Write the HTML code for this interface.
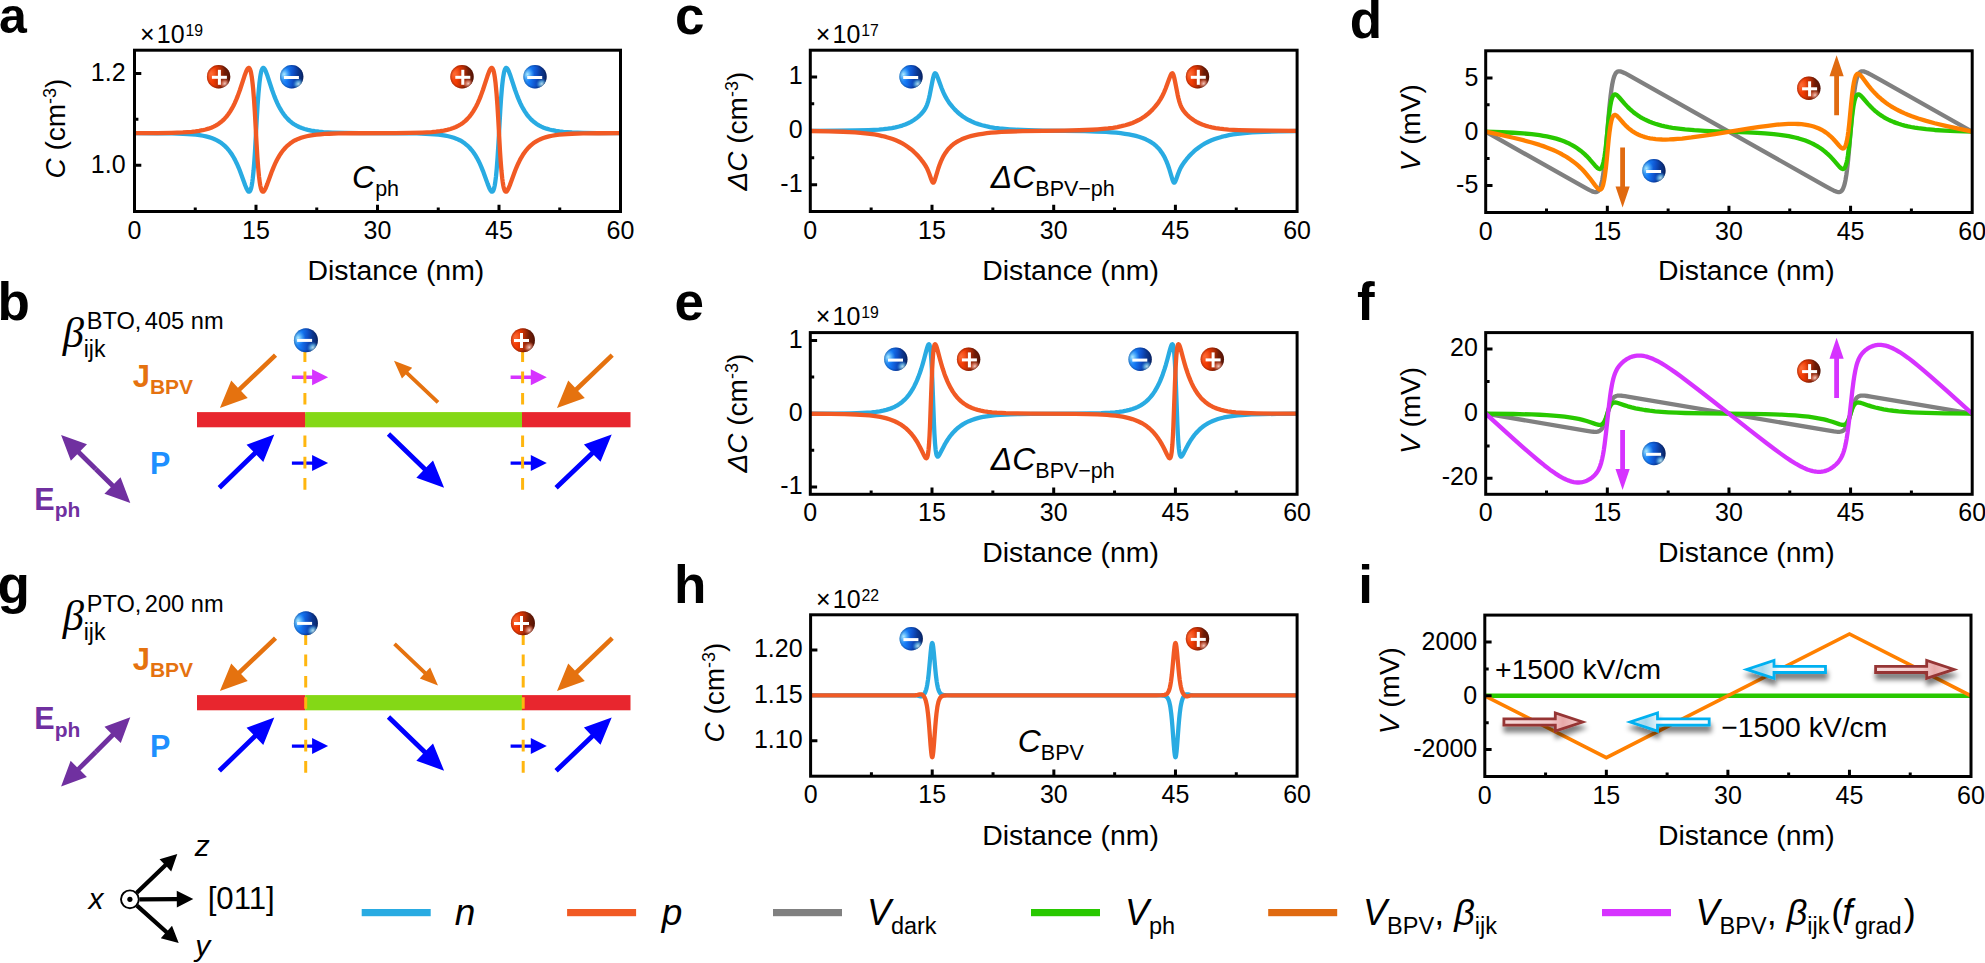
<!DOCTYPE html>
<html><head><meta charset="utf-8"><title>Figure</title>
<style>html,body{margin:0;padding:0;background:#fff;}svg{display:block}text{font-family:'Liberation Sans', Arial, Helvetica, sans-serif;fill:#000}</style>
</head><body>
<svg width="1985" height="963" viewBox="0 0 1985 963">
<defs>

<linearGradient id="rb" x1="0" y1="0.45" x2="1" y2="0.55">
 <stop offset="0" stop-color="#FF4A12"/><stop offset="0.3" stop-color="#F03A02"/>
 <stop offset="0.55" stop-color="#B02C06"/><stop offset="0.75" stop-color="#6E1C06"/><stop offset="1" stop-color="#5A1606"/>
</linearGradient>
<radialGradient id="rh1" cx="0.2" cy="0.38" r="0.3"><stop offset="0" stop-color="#FF7A45" stop-opacity="0.75"/><stop offset="1" stop-color="#FF7A45" stop-opacity="0"/></radialGradient>
<radialGradient id="rh2" cx="0.77" cy="0.8" r="0.24"><stop offset="0" stop-color="#FFD8CC" stop-opacity="0.95"/><stop offset="0.5" stop-color="#FF9C84" stop-opacity="0.6"/><stop offset="1" stop-color="#F0603C" stop-opacity="0"/></radialGradient>
<radialGradient id="rsh" cx="0.5" cy="0.5" r="0.5"><stop offset="0.8" stop-color="#400800" stop-opacity="0"/><stop offset="1" stop-color="#400800" stop-opacity="0.35"/></radialGradient>
<linearGradient id="bb" x1="0" y1="0.45" x2="1" y2="0.55">
 <stop offset="0" stop-color="#3BA4FF"/><stop offset="0.3" stop-color="#1478F5"/>
 <stop offset="0.55" stop-color="#0F50C8"/><stop offset="0.75" stop-color="#0A3690"/><stop offset="1" stop-color="#0A2668"/>
</linearGradient>
<radialGradient id="bh1" cx="0.18" cy="0.4" r="0.3"><stop offset="0" stop-color="#B4EEFF" stop-opacity="0.95"/><stop offset="1" stop-color="#58C0FF" stop-opacity="0"/></radialGradient>
<radialGradient id="bh2" cx="0.8" cy="0.82" r="0.26"><stop offset="0" stop-color="#D2F6FF" stop-opacity="0.95"/><stop offset="0.5" stop-color="#7AD4FF" stop-opacity="0.6"/><stop offset="1" stop-color="#2A8CF0" stop-opacity="0"/></radialGradient>
<radialGradient id="bsh" cx="0.5" cy="0.5" r="0.5"><stop offset="0.8" stop-color="#001040" stop-opacity="0"/><stop offset="1" stop-color="#001040" stop-opacity="0.3"/></radialGradient>

<clipPath id="clipa"><rect x="134.5" y="50.2" width="486.0" height="161.3"/></clipPath>
<clipPath id="clipc"><rect x="810.3" y="50.2" width="486.79999999999995" height="161.3"/></clipPath>
<clipPath id="clipd"><rect x="1485.7" y="50.8" width="486.5" height="161.7"/></clipPath>
<clipPath id="clipe"><rect x="810.3" y="332.6" width="486.79999999999995" height="161.7"/></clipPath>
<clipPath id="clipf"><rect x="1485.7" y="332.6" width="486.5" height="161.7"/></clipPath>
<clipPath id="cliph"><rect x="810.6" y="614.8" width="486.4999999999999" height="161.4000000000001"/></clipPath>
<clipPath id="clipi"><rect x="1484.8" y="615.1" width="486.20000000000005" height="161.39999999999998"/></clipPath>

<filter id="shd" x="-20%" y="-60%" width="140%" height="260%"><feGaussianBlur in="SourceAlpha" stdDeviation="2.8"/><feOffset dx="0.5" dy="5.5"/><feComponentTransfer><feFuncA type="linear" slope="0.5"/></feComponentTransfer><feMerge><feMergeNode/><feMergeNode in="SourceGraphic"/></feMerge></filter>
<linearGradient id="gbr" x1="0" y1="0" x2="1" y2="0"><stop offset="0" stop-color="#F6DADA"/><stop offset="0.6" stop-color="#F2CACA"/><stop offset="0.75" stop-color="#E8A8A8"/><stop offset="1" stop-color="#F4D0D0"/></linearGradient>
<linearGradient id="gbl" x1="0" y1="0" x2="1" y2="0"><stop offset="0" stop-color="#C8E8F4"/><stop offset="0.2" stop-color="#A8D8EC"/><stop offset="0.42" stop-color="#FFFFFF"/><stop offset="1" stop-color="#F4FBFF"/></linearGradient>

<filter id="soft" x="-2%" y="-20%" width="104%" height="140%"><feGaussianBlur stdDeviation="0.6"/></filter>
</defs>
<rect width="1985" height="963" fill="#fff"/>
<path d="M256.00,211.50 v-6.8 M377.50,211.50 v-6.8 M499.00,211.50 v-6.8 M195.25,211.50 v-3.9 M316.75,211.50 v-3.9 M438.25,211.50 v-3.9 M559.75,211.50 v-3.9 M134.50,165.30 h6.8 M134.50,73.40 h6.8 M134.50,119.35 h3.9 " stroke="#000" stroke-width="3" fill="none"/>
<path d="M134.50,133.15 L157.18,133.23 L171.96,133.41 L183.10,133.75 L187.76,134.00 L191.81,134.30 L195.86,134.70 L199.50,135.17 L202.94,135.75 L205.98,136.40 L208.82,137.14 L211.65,138.06 L214.08,139.01 L216.51,140.14 L218.74,141.37 L220.97,142.81 L222.99,144.35 L225.02,146.12 L226.84,147.96 L228.66,150.05 L230.49,152.44 L232.11,154.83 L233.72,157.52 L235.14,160.13 L236.76,163.43 L238.18,166.61 L239.40,169.54 L240.81,173.21 L245.27,185.48 L246.69,188.85 L247.50,190.35 L247.90,190.93 L248.31,191.37 L248.71,191.64 L248.91,191.70 L249.32,191.67 L249.52,191.57 L249.93,191.17 L250.13,190.87 L250.74,189.49 L251.34,187.31 L251.75,185.36 L252.36,181.58 L252.76,178.45 L253.57,170.58 L254.38,160.44 L254.99,151.28 L256.81,118.09 L257.62,104.94 L258.43,93.88 L259.44,83.08 L260.25,76.77 L260.66,74.34 L261.26,71.51 L261.67,70.13 L262.28,68.74 L262.68,68.20 L262.88,68.05 L263.29,67.92 L263.49,67.95 L263.90,68.17 L264.50,68.85 L265.11,69.88 L265.92,71.65 L267.54,76.10 L272.00,89.72 L274.23,95.88 L275.64,99.41 L277.26,103.08 L278.68,105.99 L280.30,108.98 L281.92,111.65 L283.74,114.30 L285.56,116.63 L287.59,118.89 L289.62,120.84 L291.84,122.67 L294.07,124.23 L296.50,125.67 L299.13,126.97 L301.76,128.04 L304.60,128.99 L307.84,129.86 L311.28,130.58 L314.93,131.18 L318.98,131.68 L323.43,132.08 L327.89,132.37 L332.75,132.60 L344.90,132.91 L359.68,133.06 L405.44,133.27 L416.78,133.45 L425.70,133.74 L430.35,133.98 L434.61,134.28 L438.45,134.65 L442.10,135.11 L445.34,135.64 L448.38,136.25 L451.21,136.97 L453.84,137.77 L456.88,138.92 L459.72,140.24 L462.35,141.74 L464.98,143.55 L467.41,145.56 L469.64,147.74 L471.66,150.05 L473.69,152.72 L475.31,155.15 L476.73,157.52 L478.35,160.52 L479.76,163.43 L481.38,167.08 L483.00,171.09 L484.62,175.40 L487.66,183.86 L489.08,187.50 L489.89,189.27 L490.70,190.66 L491.31,191.37 L491.71,191.64 L491.91,191.70 L492.32,191.67 L492.52,191.57 L492.93,191.17 L493.13,190.87 L493.74,189.49 L494.14,188.14 L494.75,185.36 L495.15,182.96 L495.96,176.68 L496.77,168.26 L497.58,157.53 L498.39,144.45 L500.22,111.26 L501.02,99.14 L501.84,89.16 L502.24,84.97 L502.85,79.67 L503.25,76.77 L503.86,73.29 L504.27,71.51 L504.87,69.58 L505.48,68.43 L505.68,68.20 L506.09,67.95 L506.29,67.92 L506.69,68.04 L507.30,68.58 L508.11,69.88 L508.92,71.65 L510.54,76.10 L515.00,89.72 L517.22,95.88 L518.64,99.41 L520.26,103.08 L521.68,105.99 L523.30,108.98 L524.92,111.65 L526.74,114.30 L528.57,116.63 L530.39,118.68 L532.41,120.65 L534.44,122.36 L536.67,123.97 L538.89,125.34 L541.32,126.60 L543.75,127.66 L546.59,128.68 L549.42,129.51 L552.46,130.22 L555.90,130.87 L559.55,131.40 L563.39,131.82 L567.44,132.15 L572.10,132.44 L583.24,132.82 L597.82,133.03 L620.50,133.11" fill="none" stroke="#29ABE2" stroke-width="4.3" stroke-linejoin="round" stroke-linecap="butt" clip-path="url(#clipa)"/>
<path d="M134.50,133.11 L157.18,133.03 L171.76,132.82 L182.90,132.44 L187.56,132.15 L191.61,131.82 L195.45,131.40 L199.10,130.87 L202.54,130.22 L205.58,129.51 L208.41,128.68 L211.25,127.66 L213.68,126.60 L216.11,125.34 L218.34,123.97 L220.56,122.36 L222.59,120.65 L224.61,118.68 L226.44,116.63 L228.26,114.30 L230.08,111.65 L231.70,108.98 L233.32,105.99 L234.74,103.08 L236.36,99.41 L237.77,95.88 L240.00,89.72 L244.46,76.10 L246.08,71.65 L246.89,69.88 L247.70,68.58 L248.31,68.04 L248.71,67.92 L248.91,67.95 L249.32,68.20 L249.52,68.43 L250.13,69.58 L250.74,71.51 L251.14,73.29 L251.75,76.77 L252.15,79.67 L252.76,84.97 L253.17,89.16 L253.97,99.14 L254.79,111.26 L256.61,144.45 L257.42,157.53 L258.23,168.26 L259.04,176.68 L259.85,182.96 L260.25,185.36 L260.86,188.14 L261.26,189.49 L261.87,190.87 L262.07,191.17 L262.48,191.57 L262.68,191.67 L263.09,191.70 L263.29,191.64 L263.70,191.37 L264.30,190.66 L265.11,189.27 L265.92,187.50 L267.34,183.86 L270.38,175.40 L272.00,171.09 L273.62,167.08 L275.24,163.43 L276.66,160.52 L278.27,157.52 L279.69,155.15 L281.31,152.72 L283.34,150.05 L285.36,147.74 L287.59,145.56 L290.02,143.55 L292.65,141.74 L295.29,140.24 L298.12,138.92 L301.16,137.77 L303.79,136.97 L306.62,136.25 L309.66,135.64 L312.90,135.11 L316.55,134.65 L320.40,134.28 L324.65,133.98 L329.31,133.74 L338.22,133.45 L349.56,133.27 L395.32,133.06 L410.10,132.91 L422.25,132.60 L427.11,132.37 L431.57,132.08 L436.02,131.68 L440.07,131.18 L443.72,130.58 L447.16,129.86 L450.40,128.99 L453.24,128.04 L455.87,126.97 L458.50,125.67 L460.93,124.23 L463.16,122.67 L465.39,120.84 L467.41,118.89 L469.44,116.63 L471.26,114.30 L473.08,111.65 L474.70,108.98 L476.32,105.99 L477.74,103.08 L479.36,99.41 L480.78,95.88 L483.00,89.72 L487.46,76.10 L489.08,71.65 L489.89,69.88 L490.50,68.85 L491.10,68.17 L491.51,67.95 L491.71,67.92 L492.12,68.05 L492.32,68.20 L492.72,68.74 L493.33,70.13 L493.74,71.51 L494.34,74.34 L494.75,76.77 L495.56,83.08 L496.57,93.88 L497.38,104.94 L498.19,118.09 L500.01,151.28 L500.62,160.44 L501.43,170.58 L502.24,178.45 L502.65,181.58 L503.25,185.36 L503.66,187.31 L504.27,189.49 L504.87,190.87 L505.07,191.17 L505.48,191.57 L505.68,191.67 L506.09,191.70 L506.29,191.64 L506.69,191.37 L507.10,190.93 L507.51,190.35 L508.32,188.85 L509.73,185.48 L514.19,173.21 L515.61,169.54 L516.82,166.61 L518.24,163.43 L519.86,160.13 L521.27,157.52 L522.89,154.83 L524.52,152.44 L526.34,150.05 L528.16,147.96 L529.98,146.12 L532.01,144.35 L534.03,142.81 L536.26,141.37 L538.49,140.14 L540.92,139.01 L543.35,138.06 L546.18,137.14 L549.02,136.40 L552.06,135.75 L555.50,135.17 L559.14,134.70 L563.19,134.30 L567.24,134.00 L571.90,133.75 L583.04,133.41 L597.82,133.23 L620.50,133.15" fill="none" stroke="#F15A24" stroke-width="4.3" stroke-linejoin="round" stroke-linecap="butt" clip-path="url(#clipa)"/>
<rect x="134.50" y="50.20" width="486.00" height="161.30" fill="none" stroke="#000" stroke-width="3"/>
<text transform="translate(134.50,238.50) scale(1,1.04)" text-anchor="middle" font-size="25">0</text>
<text transform="translate(256.00,238.50) scale(1,1.04)" text-anchor="middle" font-size="25">15</text>
<text transform="translate(377.50,238.50) scale(1,1.04)" text-anchor="middle" font-size="25">30</text>
<text transform="translate(499.00,238.50) scale(1,1.04)" text-anchor="middle" font-size="25">45</text>
<text transform="translate(620.50,238.50) scale(1,1.04)" text-anchor="middle" font-size="25">60</text>
<text transform="translate(125.60,172.70) scale(1,1.04)" text-anchor="end" font-size="25">1.0</text>
<text transform="translate(125.60,80.80) scale(1,1.04)" text-anchor="end" font-size="25">1.2</text>
<text transform="translate(139.97,43.00) scale(1,1.04)" ><tspan font-size="25">×</tspan><tspan font-size="25" dx="2.2">10</tspan><tspan font-size="15.8" dy="-6.73" dx="0.8">19</tspan></text>
<text x="307.57" y="279.70" ><tspan font-size="28.4">Distance (nm)</tspan></text>
<text transform="translate(64.60,178.60) rotate(-90)" ><tspan font-size="28" font-style="italic">C</tspan><tspan font-size="28"> (cm</tspan><tspan font-size="18" dy="-9.00">-3</tspan><tspan font-size="28" dy="9.00">)</tspan></text>
<text x="352.03" y="188.10" ><tspan font-size="32" font-style="italic">C</tspan><tspan font-size="21.5" dy="7.90">ph</tspan></text>
<g><circle cx="218.60" cy="76.70" r="11.7" fill="url(#rb)"/><circle cx="218.60" cy="76.70" r="11.7" fill="url(#rh1)"/><circle cx="218.60" cy="76.70" r="11.7" fill="url(#rh2)"/><circle cx="218.60" cy="76.70" r="11.7" fill="url(#rsh)"/><rect x="211.90" y="75.80" width="15.0" height="3.0" fill="#fff"/><rect x="217.90" y="69.80" width="3.0" height="15.0" fill="#fff"/></g>
<g><circle cx="291.70" cy="76.70" r="11.7" fill="url(#bb)"/><circle cx="291.70" cy="76.70" r="11.7" fill="url(#bh1)"/><circle cx="291.70" cy="76.70" r="11.7" fill="url(#bh2)"/><circle cx="291.70" cy="76.70" r="11.7" fill="url(#bsh)"/><rect x="283.90" y="76.00" width="15.0" height="3.0" fill="#fff"/></g>
<g><circle cx="462.00" cy="76.70" r="11.7" fill="url(#rb)"/><circle cx="462.00" cy="76.70" r="11.7" fill="url(#rh1)"/><circle cx="462.00" cy="76.70" r="11.7" fill="url(#rh2)"/><circle cx="462.00" cy="76.70" r="11.7" fill="url(#rsh)"/><rect x="455.30" y="75.80" width="15.0" height="3.0" fill="#fff"/><rect x="461.30" y="69.80" width="3.0" height="15.0" fill="#fff"/></g>
<g><circle cx="535.00" cy="76.70" r="11.7" fill="url(#bb)"/><circle cx="535.00" cy="76.70" r="11.7" fill="url(#bh1)"/><circle cx="535.00" cy="76.70" r="11.7" fill="url(#bh2)"/><circle cx="535.00" cy="76.70" r="11.7" fill="url(#bsh)"/><rect x="527.20" y="76.00" width="15.0" height="3.0" fill="#fff"/></g>
<path d="M932.00,211.50 v-6.8 M1053.70,211.50 v-6.8 M1175.40,211.50 v-6.8 M871.15,211.50 v-3.9 M992.85,211.50 v-3.9 M1114.55,211.50 v-3.9 M1236.25,211.50 v-3.9 M810.30,184.70 h6.8 M810.30,130.80 h6.8 M810.30,76.90 h6.8 M810.30,157.75 h3.9 M810.30,103.85 h3.9 " stroke="#000" stroke-width="3" fill="none"/>
<path d="M810.30,130.78 L837.68,130.70 L855.33,130.51 L868.51,130.14 L873.99,129.88 L878.86,129.56 L883.52,129.14 L887.78,128.64 L891.84,128.03 L895.49,127.34 L898.94,126.52 L902.18,125.57 L905.23,124.49 L908.07,123.29 L910.91,121.86 L913.54,120.28 L915.98,118.59 L918.41,116.62 L920.64,114.54 L922.67,112.32 L924.29,110.16 L925.51,108.13 L926.32,106.46 L926.93,104.98 L927.74,102.64 L928.35,100.58 L928.96,98.24 L929.77,94.67 L932.41,81.22 L933.22,77.52 L933.83,75.31 L934.23,74.22 L934.64,73.51 L934.84,73.32 L935.04,73.24 L935.45,73.35 L935.65,73.50 L936.06,73.99 L936.46,74.68 L937.07,75.97 L938.08,78.53 L941.74,88.50 L943.16,91.94 L944.37,94.57 L945.59,96.93 L947.01,99.39 L948.63,101.89 L950.25,104.14 L952.49,106.92 L954.92,109.61 L957.35,112.00 L959.99,114.28 L962.83,116.44 L965.67,118.31 L968.71,120.05 L971.76,121.54 L975.00,122.91 L978.45,124.14 L982.10,125.24 L985.95,126.20 L990.01,127.04 L994.47,127.78 L999.34,128.43 L1004.61,128.97 L1009.69,129.38 L1015.36,129.73 L1028.35,130.26 L1042.95,130.57 L1084.73,131.17 L1096.30,131.50 L1106.03,131.95 L1111.30,132.30 L1116.17,132.71 L1120.63,133.19 L1124.89,133.76 L1128.75,134.38 L1132.40,135.10 L1135.85,135.91 L1138.89,136.76 L1142.54,137.99 L1145.79,139.32 L1148.83,140.83 L1151.47,142.40 L1153.90,144.12 L1156.33,146.18 L1158.36,148.23 L1160.39,150.65 L1162.01,152.94 L1163.64,155.60 L1165.06,158.30 L1166.48,161.41 L1167.90,164.99 L1169.11,168.50 L1172.76,180.53 L1173.37,181.99 L1173.78,182.56 L1173.98,182.68 L1174.18,182.70 L1174.39,182.63 L1174.79,182.27 L1175.20,181.65 L1175.60,180.82 L1176.21,179.30 L1178.04,174.08 L1179.05,171.40 L1180.07,169.09 L1181.28,166.75 L1182.70,164.44 L1184.53,161.83 L1186.56,159.20 L1188.79,156.56 L1191.22,153.96 L1193.86,151.43 L1196.49,149.18 L1199.13,147.17 L1201.97,145.25 L1205.01,143.44 L1208.26,141.76 L1211.50,140.31 L1214.75,139.04 L1217.99,137.95 L1221.44,136.94 L1225.09,136.03 L1228.95,135.21 L1233.00,134.49 L1237.47,133.83 L1242.13,133.27 L1247.00,132.79 L1252.27,132.38 L1257.95,132.03 L1264.24,131.73 L1278.64,131.30 L1297.10,131.02" fill="none" stroke="#29ABE2" stroke-width="4.3" stroke-linejoin="round" stroke-linecap="butt" clip-path="url(#clipc)"/>
<path d="M810.30,131.02 L828.76,131.30 L843.16,131.73 L849.45,132.03 L855.13,132.38 L860.40,132.79 L865.27,133.27 L869.93,133.83 L874.40,134.49 L878.45,135.21 L882.31,136.03 L885.96,136.94 L889.40,137.95 L892.65,139.04 L895.90,140.31 L899.14,141.76 L902.39,143.44 L905.43,145.25 L908.27,147.17 L910.91,149.18 L913.54,151.43 L916.18,153.96 L918.61,156.56 L920.84,159.20 L922.87,161.83 L924.70,164.44 L926.12,166.75 L927.33,169.09 L928.35,171.40 L929.36,174.08 L931.19,179.30 L931.80,180.82 L932.20,181.65 L932.61,182.27 L933.01,182.63 L933.22,182.70 L933.42,182.68 L933.62,182.56 L934.03,181.99 L934.64,180.53 L938.29,168.50 L939.50,164.99 L940.92,161.41 L942.34,158.30 L943.76,155.60 L945.39,152.94 L947.01,150.65 L949.04,148.23 L951.07,146.18 L953.50,144.12 L955.93,142.40 L958.57,140.83 L961.61,139.32 L964.86,137.99 L968.51,136.76 L971.55,135.91 L975.00,135.10 L978.65,134.38 L982.51,133.76 L986.76,133.19 L991.23,132.71 L996.10,132.30 L1001.37,131.95 L1011.10,131.50 L1022.67,131.17 L1064.45,130.57 L1079.05,130.26 L1092.04,129.73 L1097.71,129.38 L1102.79,128.97 L1108.06,128.43 L1112.93,127.78 L1117.39,127.04 L1121.45,126.20 L1125.30,125.24 L1128.95,124.14 L1132.40,122.91 L1135.64,121.54 L1138.69,120.05 L1141.73,118.31 L1144.57,116.44 L1147.41,114.28 L1150.05,112.00 L1152.48,109.61 L1154.91,106.92 L1157.14,104.14 L1158.77,101.89 L1160.39,99.39 L1161.81,96.93 L1163.03,94.57 L1164.24,91.94 L1165.66,88.50 L1169.32,78.53 L1170.33,75.97 L1170.94,74.68 L1171.34,73.99 L1171.75,73.50 L1171.95,73.35 L1172.36,73.24 L1172.56,73.32 L1172.76,73.51 L1173.17,74.22 L1173.57,75.31 L1174.18,77.52 L1174.99,81.22 L1177.63,94.67 L1178.44,98.24 L1179.05,100.58 L1179.66,102.64 L1180.47,104.98 L1181.08,106.46 L1181.89,108.13 L1183.11,110.16 L1184.73,112.32 L1186.76,114.54 L1188.99,116.62 L1191.42,118.59 L1193.86,120.28 L1196.49,121.86 L1199.33,123.29 L1202.17,124.49 L1205.22,125.57 L1208.46,126.52 L1211.91,127.34 L1215.56,128.03 L1219.62,128.64 L1223.88,129.14 L1228.54,129.56 L1233.41,129.88 L1238.89,130.14 L1252.07,130.51 L1269.72,130.70 L1297.10,130.78" fill="none" stroke="#F15A24" stroke-width="4.3" stroke-linejoin="round" stroke-linecap="butt" clip-path="url(#clipc)"/>
<rect x="810.30" y="50.20" width="486.80" height="161.30" fill="none" stroke="#000" stroke-width="3"/>
<text transform="translate(810.30,238.50) scale(1,1.04)" text-anchor="middle" font-size="25">0</text>
<text transform="translate(932.00,238.50) scale(1,1.04)" text-anchor="middle" font-size="25">15</text>
<text transform="translate(1053.70,238.50) scale(1,1.04)" text-anchor="middle" font-size="25">30</text>
<text transform="translate(1175.40,238.50) scale(1,1.04)" text-anchor="middle" font-size="25">45</text>
<text transform="translate(1297.10,238.50) scale(1,1.04)" text-anchor="middle" font-size="25">60</text>
<text transform="translate(802.60,192.10) scale(1,1.04)" text-anchor="end" font-size="25">-1</text>
<text transform="translate(802.60,138.20) scale(1,1.04)" text-anchor="end" font-size="25">0</text>
<text transform="translate(802.60,84.30) scale(1,1.04)" text-anchor="end" font-size="25">1</text>
<text transform="translate(815.77,43.00) scale(1,1.04)" ><tspan font-size="25">×</tspan><tspan font-size="25" dx="2.2">10</tspan><tspan font-size="15.8" dy="-6.73" dx="0.8">17</tspan></text>
<text x="982.17" y="279.70" ><tspan font-size="28.4">Distance (nm)</tspan></text>
<text transform="translate(747.00,190.50) rotate(-90)" ><tspan font-size="28" font-style="italic">ΔC</tspan><tspan font-size="28"> (cm</tspan><tspan font-size="18" dy="-9.00">-3</tspan><tspan font-size="28" dy="9.00">)</tspan></text>
<text x="990.73" y="187.60" ><tspan font-size="32" font-style="italic">ΔC</tspan><tspan font-size="21.5" dy="8.20">BPV−ph</tspan></text>
<g><circle cx="911.00" cy="76.70" r="11.7" fill="url(#bb)"/><circle cx="911.00" cy="76.70" r="11.7" fill="url(#bh1)"/><circle cx="911.00" cy="76.70" r="11.7" fill="url(#bh2)"/><circle cx="911.00" cy="76.70" r="11.7" fill="url(#bsh)"/><rect x="903.20" y="76.00" width="15.0" height="3.0" fill="#fff"/></g>
<g><circle cx="1197.50" cy="76.70" r="11.7" fill="url(#rb)"/><circle cx="1197.50" cy="76.70" r="11.7" fill="url(#rh1)"/><circle cx="1197.50" cy="76.70" r="11.7" fill="url(#rh2)"/><circle cx="1197.50" cy="76.70" r="11.7" fill="url(#rsh)"/><rect x="1190.80" y="75.80" width="15.0" height="3.0" fill="#fff"/><rect x="1196.80" y="69.80" width="3.0" height="15.0" fill="#fff"/></g>
<path d="M1607.33,212.50 v-6.8 M1728.95,212.50 v-6.8 M1850.58,212.50 v-6.8 M1546.51,212.50 v-3.9 M1668.14,212.50 v-3.9 M1789.76,212.50 v-3.9 M1911.39,212.50 v-3.9 M1485.70,185.50 h6.8 M1485.70,131.70 h6.8 M1485.70,77.90 h6.8 M1485.70,158.60 h3.9 M1485.70,104.80 h3.9 " stroke="#000" stroke-width="3" fill="none"/>
<path d="M1485.70,131.70 L1585.43,187.91 L1589.08,189.87 L1591.72,191.13 L1593.74,191.85 L1594.55,192.02 L1595.37,192.10 L1595.97,192.07 L1596.58,191.95 L1597.19,191.71 L1597.60,191.47 L1598.20,190.98 L1598.61,190.54 L1599.42,189.33 L1600.23,187.59 L1600.84,185.85 L1601.65,182.83 L1602.26,179.94 L1602.87,176.45 L1603.47,172.30 L1604.08,167.45 L1604.69,161.91 L1605.91,148.93 L1608.34,119.24 L1609.35,107.69 L1610.57,95.95 L1611.58,88.26 L1612.19,84.55 L1613.00,80.57 L1613.61,78.22 L1614.42,75.81 L1615.23,74.07 L1615.64,73.41 L1616.24,72.63 L1616.65,72.24 L1617.26,71.80 L1617.87,71.52 L1618.47,71.36 L1619.28,71.30 L1620.10,71.38 L1621.11,71.61 L1622.12,71.95 L1624.96,73.22 L1629.01,75.37 L1826.25,186.56 L1830.91,189.13 L1833.95,190.67 L1836.18,191.60 L1837.80,192.02 L1838.62,192.10 L1839.22,192.07 L1839.83,191.95 L1840.44,191.71 L1841.05,191.33 L1841.45,190.98 L1842.06,190.28 L1842.47,189.68 L1843.28,188.08 L1844.09,185.85 L1844.90,182.83 L1845.51,179.94 L1846.32,175.14 L1846.93,170.76 L1848.14,159.92 L1849.36,146.57 L1851.59,119.24 L1852.60,107.69 L1853.62,97.72 L1854.63,89.64 L1855.24,85.71 L1855.85,82.43 L1856.45,79.73 L1857.26,76.92 L1858.08,74.86 L1858.89,73.41 L1859.29,72.86 L1859.90,72.24 L1860.31,71.93 L1860.91,71.60 L1861.72,71.36 L1862.53,71.30 L1863.55,71.41 L1864.56,71.67 L1865.78,72.11 L1867.20,72.73 L1870.85,74.60 L1880.37,79.91 L1972.20,131.70" fill="none" stroke="#808080" stroke-width="4.3" stroke-linejoin="round" stroke-linecap="butt" clip-path="url(#clipd)"/>
<path d="M1485.70,131.70 L1501.92,132.25 L1513.27,132.77 L1523.20,133.42 L1531.71,134.19 L1539.62,135.19 L1543.27,135.77 L1546.72,136.40 L1549.96,137.07 L1553.20,137.85 L1556.24,138.67 L1559.28,139.61 L1561.92,140.52 L1564.55,141.53 L1567.19,142.66 L1569.62,143.81 L1572.05,145.09 L1574.28,146.37 L1576.51,147.78 L1578.54,149.18 L1580.57,150.70 L1582.59,152.35 L1584.62,154.15 L1586.65,156.09 L1589.69,159.29 L1595.16,165.65 L1596.99,167.58 L1597.80,168.26 L1598.61,168.77 L1599.42,169.02 L1600.03,168.99 L1600.64,168.69 L1601.24,168.09 L1601.85,167.10 L1602.46,165.66 L1603.07,163.69 L1603.47,162.05 L1604.08,159.04 L1604.49,156.65 L1605.30,150.93 L1606.11,143.99 L1608.14,123.29 L1609.15,114.10 L1609.96,108.06 L1610.37,105.52 L1610.97,102.28 L1611.78,98.99 L1612.19,97.74 L1612.80,96.30 L1613.41,95.31 L1614.01,94.71 L1614.62,94.41 L1615.23,94.38 L1615.84,94.54 L1616.45,94.86 L1617.06,95.29 L1617.87,96.02 L1619.49,97.75 L1624.76,103.89 L1627.80,107.11 L1629.62,108.88 L1631.65,110.70 L1633.47,112.22 L1635.50,113.77 L1637.73,115.35 L1639.96,116.78 L1642.19,118.09 L1644.62,119.39 L1647.06,120.56 L1649.69,121.71 L1652.33,122.74 L1655.16,123.73 L1658.20,124.67 L1661.45,125.55 L1664.89,126.37 L1668.54,127.12 L1672.39,127.80 L1676.45,128.41 L1680.71,128.96 L1685.16,129.44 L1694.29,130.19 L1704.83,130.81 L1716.18,131.28 L1747.80,132.36 L1757.13,132.80 L1765.03,133.31 L1773.75,134.07 L1781.65,135.02 L1785.30,135.57 L1788.75,136.16 L1791.99,136.81 L1795.03,137.50 L1798.68,138.44 L1802.13,139.48 L1805.37,140.59 L1808.41,141.78 L1811.45,143.12 L1814.29,144.54 L1817.13,146.13 L1819.76,147.78 L1821.99,149.33 L1824.02,150.86 L1826.05,152.53 L1827.87,154.15 L1830.10,156.29 L1832.33,158.62 L1834.56,161.13 L1838.41,165.65 L1839.83,167.18 L1840.64,167.94 L1841.45,168.54 L1842.26,168.94 L1842.87,169.04 L1843.48,168.92 L1844.09,168.53 L1844.70,167.81 L1845.10,167.10 L1845.71,165.66 L1846.12,164.41 L1846.72,162.05 L1847.13,160.11 L1847.94,155.34 L1848.95,147.61 L1849.76,140.11 L1851.79,119.41 L1852.60,112.47 L1853.41,106.75 L1853.82,104.36 L1854.43,101.35 L1854.83,99.71 L1855.44,97.74 L1856.05,96.30 L1856.66,95.31 L1857.26,94.71 L1857.87,94.41 L1858.48,94.38 L1859.29,94.63 L1860.10,95.14 L1860.91,95.82 L1862.74,97.75 L1868.21,104.11 L1871.25,107.31 L1873.28,109.25 L1875.31,111.05 L1877.33,112.70 L1879.36,114.22 L1881.39,115.62 L1883.62,117.03 L1885.85,118.31 L1888.28,119.59 L1890.71,120.74 L1893.35,121.87 L1895.98,122.88 L1898.62,123.79 L1901.66,124.73 L1904.70,125.55 L1907.94,126.33 L1911.18,127.00 L1914.63,127.63 L1918.28,128.21 L1926.19,129.21 L1934.70,129.98 L1944.63,130.63 L1955.98,131.15 L1972.20,131.70" fill="none" stroke="#28C800" stroke-width="4.3" stroke-linejoin="round" stroke-linecap="butt" clip-path="url(#clipd)"/>
<path d="M1485.70,131.70 L1501.92,135.18 L1513.27,137.75 L1523.20,140.18 L1531.71,142.50 L1539.62,144.92 L1543.27,146.16 L1546.72,147.41 L1549.96,148.67 L1553.20,150.03 L1556.24,151.40 L1559.28,152.89 L1561.92,154.27 L1564.55,155.76 L1567.19,157.36 L1569.62,158.96 L1572.05,160.67 L1574.28,162.36 L1576.51,164.17 L1578.54,165.94 L1580.57,167.82 L1582.59,169.84 L1584.62,172.00 L1586.65,174.30 L1589.69,178.05 L1595.16,185.40 L1596.99,187.65 L1597.80,188.49 L1598.61,189.15 L1599.42,189.56 L1600.03,189.64 L1600.64,189.48 L1601.24,189.01 L1601.85,188.16 L1602.26,187.35 L1602.87,185.71 L1603.27,184.30 L1604.08,180.63 L1604.89,175.72 L1605.91,167.78 L1606.72,160.07 L1608.74,138.83 L1609.55,131.86 L1610.37,126.21 L1610.77,123.88 L1611.38,120.99 L1611.78,119.44 L1612.39,117.62 L1612.80,116.71 L1613.41,115.74 L1614.01,115.17 L1614.62,114.92 L1615.03,114.90 L1615.64,115.05 L1616.24,115.37 L1617.06,115.99 L1618.68,117.64 L1623.74,123.49 L1626.58,126.41 L1628.41,128.07 L1630.23,129.58 L1632.06,130.93 L1633.88,132.14 L1635.91,133.33 L1638.14,134.48 L1640.37,135.47 L1642.60,136.32 L1645.03,137.10 L1647.46,137.74 L1650.10,138.30 L1652.73,138.74 L1655.77,139.11 L1658.81,139.36 L1662.26,139.50 L1665.71,139.53 L1669.35,139.46 L1673.41,139.26 L1677.66,138.96 L1682.12,138.55 L1691.45,137.46 L1702.60,135.90 L1714.76,134.01 L1749.63,128.36 L1759.56,126.88 L1767.87,125.76 L1776.99,124.73 L1784.90,124.11 L1788.34,123.95 L1791.79,123.87 L1795.03,123.88 L1798.07,123.99 L1801.52,124.23 L1804.76,124.60 L1807.80,125.10 L1810.84,125.76 L1813.68,126.55 L1816.32,127.45 L1818.95,128.54 L1821.38,129.74 L1823.82,131.13 L1826.05,132.62 L1828.28,134.31 L1830.30,136.05 L1831.93,137.58 L1833.75,139.47 L1835.57,141.50 L1839.22,145.76 L1840.24,146.84 L1841.05,147.58 L1841.86,148.15 L1842.47,148.42 L1843.07,148.50 L1843.68,148.35 L1844.29,147.89 L1844.90,147.06 L1845.51,145.78 L1845.91,144.63 L1846.52,142.41 L1846.93,140.56 L1847.74,135.90 L1848.35,131.54 L1849.16,124.57 L1851.18,103.33 L1851.99,95.62 L1853.01,87.68 L1853.82,82.77 L1854.63,79.10 L1855.03,77.69 L1855.64,76.05 L1856.05,75.24 L1856.66,74.39 L1857.06,74.04 L1857.67,73.78 L1858.28,73.79 L1859.09,74.12 L1859.90,74.72 L1860.71,75.52 L1862.53,77.73 L1868.21,85.35 L1871.25,89.10 L1873.28,91.40 L1875.31,93.56 L1877.33,95.58 L1879.36,97.46 L1881.39,99.23 L1883.62,101.04 L1885.85,102.73 L1888.28,104.44 L1890.71,106.04 L1893.35,107.64 L1895.98,109.13 L1898.62,110.51 L1901.66,112.00 L1904.70,113.37 L1907.94,114.73 L1911.18,115.99 L1914.63,117.24 L1918.28,118.48 L1926.19,120.90 L1934.70,123.22 L1944.63,125.65 L1955.98,128.22 L1972.20,131.70" fill="none" stroke="#FF8000" stroke-width="4.3" stroke-linejoin="round" stroke-linecap="butt" clip-path="url(#clipd)"/>
<rect x="1485.70" y="50.80" width="486.50" height="161.70" fill="none" stroke="#000" stroke-width="3"/>
<text transform="translate(1485.70,239.50) scale(1,1.04)" text-anchor="middle" font-size="25">0</text>
<text transform="translate(1607.33,239.50) scale(1,1.04)" text-anchor="middle" font-size="25">15</text>
<text transform="translate(1728.95,239.50) scale(1,1.04)" text-anchor="middle" font-size="25">30</text>
<text transform="translate(1850.58,239.50) scale(1,1.04)" text-anchor="middle" font-size="25">45</text>
<text transform="translate(1972.20,239.50) scale(1,1.04)" text-anchor="middle" font-size="25">60</text>
<text transform="translate(1478.30,193.40) scale(1,1.04)" text-anchor="end" font-size="25">-5</text>
<text transform="translate(1478.30,139.60) scale(1,1.04)" text-anchor="end" font-size="25">0</text>
<text transform="translate(1478.30,85.80) scale(1,1.04)" text-anchor="end" font-size="25">5</text>
<text x="1657.97" y="279.70" ><tspan font-size="28.4">Distance (nm)</tspan></text>
<text transform="translate(1420.20,171.20) rotate(-90)" ><tspan font-size="28" font-style="italic">V</tspan><tspan font-size="28"> (mV)</tspan></text>
<polygon fill="#E06A10" points="1620.20,147.40 1620.20,186.40 1615.50,186.40 1622.60,207.40 1629.70,186.40 1625.00,186.40 1625.00,147.40"/>
<polygon fill="#E06A10" points="1839.00,115.30 1839.00,76.20 1843.70,76.20 1836.60,55.20 1829.50,76.20 1834.20,76.20 1834.20,115.30"/>
<g><circle cx="1653.90" cy="170.70" r="11.7" fill="url(#bb)"/><circle cx="1653.90" cy="170.70" r="11.7" fill="url(#bh1)"/><circle cx="1653.90" cy="170.70" r="11.7" fill="url(#bh2)"/><circle cx="1653.90" cy="170.70" r="11.7" fill="url(#bsh)"/><rect x="1646.10" y="170.00" width="15.0" height="3.0" fill="#fff"/></g>
<g><circle cx="1808.80" cy="88.20" r="11.7" fill="url(#rb)"/><circle cx="1808.80" cy="88.20" r="11.7" fill="url(#rh1)"/><circle cx="1808.80" cy="88.20" r="11.7" fill="url(#rh2)"/><circle cx="1808.80" cy="88.20" r="11.7" fill="url(#rsh)"/><rect x="1802.10" y="87.30" width="15.0" height="3.0" fill="#fff"/><rect x="1808.10" y="81.30" width="3.0" height="15.0" fill="#fff"/></g>
<path d="M932.00,494.30 v-6.8 M1053.70,494.30 v-6.8 M1175.40,494.30 v-6.8 M871.15,494.30 v-3.9 M992.85,494.30 v-3.9 M1114.55,494.30 v-3.9 M1236.25,494.30 v-3.9 M810.30,487.00 h6.8 M810.30,413.70 h6.8 M810.30,340.40 h6.8 M810.30,450.35 h3.9 M810.30,377.05 h3.9 " stroke="#000" stroke-width="3" fill="none"/>
<path d="M810.30,413.68 L835.05,413.60 L850.66,413.39 L856.95,413.21 L862.43,412.99 L867.30,412.69 L871.56,412.34 L875.82,411.87 L879.67,411.29 L883.12,410.63 L886.36,409.85 L889.40,408.93 L892.24,407.87 L894.88,406.68 L897.32,405.36 L899.75,403.81 L902.18,401.96 L904.41,399.96 L906.65,397.62 L908.67,395.15 L910.50,392.60 L912.33,389.71 L914.15,386.42 L915.57,383.55 L916.99,380.38 L918.41,376.88 L919.83,373.01 L921.25,368.75 L922.67,364.07 L924.09,358.99 L926.32,350.58 L927.33,347.11 L927.74,345.96 L928.15,345.03 L928.55,344.41 L928.75,344.25 L928.96,344.21 L929.16,344.31 L929.36,344.57 L929.57,345.01 L929.97,346.51 L930.17,347.62 L930.78,352.70 L931.39,360.84 L931.80,368.13 L932.41,381.74 L934.03,425.09 L934.43,433.77 L935.04,443.61 L935.65,450.06 L936.26,453.88 L936.67,455.35 L937.07,456.18 L937.48,456.54 L937.88,456.54 L938.29,456.29 L938.69,455.85 L939.50,454.61 L944.37,445.17 L946.20,441.99 L948.02,439.12 L949.85,436.54 L951.67,434.22 L953.70,431.92 L955.73,429.87 L958.17,427.72 L960.60,425.85 L963.24,424.11 L965.87,422.62 L968.92,421.16 L971.96,419.94 L975.20,418.86 L978.65,417.91 L981.69,417.22 L984.94,416.61 L988.39,416.08 L992.04,415.62 L995.89,415.23 L1000.15,414.89 L1009.89,414.37 L1019.62,414.08 L1031.79,413.88 L1076.01,413.63 L1089.60,413.48 L1101.16,413.19 L1110.29,412.72 L1114.96,412.34 L1119.01,411.89 L1122.87,411.33 L1126.31,410.68 L1129.56,409.90 L1132.40,409.06 L1135.24,408.03 L1137.88,406.88 L1140.72,405.37 L1143.56,403.52 L1145.99,401.62 L1148.42,399.36 L1150.65,396.92 L1152.68,394.34 L1154.71,391.36 L1156.74,387.93 L1158.36,384.82 L1159.98,381.32 L1161.40,377.91 L1162.82,374.16 L1164.45,369.38 L1165.87,364.76 L1167.29,359.73 L1169.92,349.85 L1170.73,347.11 L1171.14,345.96 L1171.55,345.03 L1171.95,344.41 L1172.15,344.25 L1172.36,344.21 L1172.56,344.31 L1172.76,344.57 L1172.97,345.01 L1173.37,346.51 L1173.57,347.62 L1174.18,352.70 L1174.79,360.84 L1175.20,368.13 L1175.81,381.74 L1177.43,425.09 L1177.83,433.77 L1178.44,443.61 L1178.85,448.25 L1179.46,452.85 L1179.66,453.88 L1180.07,455.35 L1180.47,456.18 L1180.88,456.54 L1181.28,456.54 L1181.69,456.29 L1182.09,455.85 L1182.70,454.95 L1183.72,453.11 L1186.15,448.25 L1187.77,445.17 L1189.40,442.33 L1191.22,439.43 L1192.64,437.37 L1194.26,435.22 L1195.68,433.50 L1197.31,431.70 L1199.33,429.68 L1201.36,427.89 L1203.39,426.30 L1205.62,424.75 L1207.85,423.39 L1210.29,422.10 L1212.72,420.98 L1215.36,419.94 L1217.99,419.05 L1220.83,418.22 L1223.88,417.48 L1227.12,416.83 L1230.37,416.29 L1234.02,415.79 L1237.87,415.36 L1242.13,415.00 L1251.46,414.45 L1262.82,414.08 L1277.22,413.87 L1297.10,413.75" fill="none" stroke="#29ABE2" stroke-width="4.3" stroke-linejoin="round" stroke-linecap="butt" clip-path="url(#clipe)"/>
<path d="M810.30,413.75 L830.18,413.87 L844.58,414.10 L855.94,414.48 L865.27,415.05 L869.53,415.43 L873.38,415.87 L877.03,416.39 L880.28,416.95 L883.52,417.63 L886.57,418.40 L889.40,419.26 L892.04,420.19 L894.68,421.27 L897.11,422.44 L899.55,423.78 L901.78,425.19 L904.01,426.79 L906.04,428.45 L908.07,430.31 L910.09,432.41 L911.72,434.28 L913.14,436.07 L914.76,438.31 L916.18,440.45 L918.00,443.46 L919.63,446.42 L921.05,449.21 L923.68,454.67 L924.70,456.59 L925.31,457.52 L925.71,457.97 L926.12,458.23 L926.52,458.23 L926.93,457.86 L927.33,457.01 L927.74,455.50 L927.94,454.45 L928.55,449.76 L928.96,445.05 L929.57,435.09 L929.97,426.33 L931.59,382.31 L932.20,368.47 L932.61,361.06 L933.01,355.18 L933.62,349.06 L933.83,347.65 L934.23,345.66 L934.64,344.57 L934.84,344.31 L935.04,344.21 L935.25,344.25 L935.45,344.41 L935.85,345.04 L936.26,345.97 L936.67,347.14 L937.48,349.88 L939.91,359.03 L941.33,364.11 L942.75,368.79 L944.37,373.63 L945.79,377.44 L947.42,381.35 L949.04,384.84 L950.66,387.96 L952.69,391.39 L954.72,394.36 L956.75,396.93 L958.98,399.37 L961.41,401.63 L963.84,403.53 L966.48,405.25 L969.32,406.78 L971.96,407.96 L974.80,409.00 L977.64,409.85 L980.88,410.64 L984.33,411.30 L987.98,411.84 L992.04,412.31 L996.70,412.70 L1005.83,413.17 L1017.39,413.47 L1030.98,413.62 L1075.40,413.89 L1087.57,414.09 L1097.31,414.39 L1107.05,414.92 L1111.30,415.27 L1115.36,415.70 L1119.01,416.17 L1122.46,416.73 L1125.71,417.36 L1128.75,418.08 L1132.20,419.06 L1135.44,420.19 L1138.48,421.46 L1141.53,422.97 L1144.16,424.52 L1146.80,426.33 L1149.23,428.28 L1151.67,430.51 L1153.70,432.64 L1155.73,435.03 L1157.55,437.45 L1159.38,440.13 L1161.20,443.11 L1162.82,446.03 L1164.24,448.80 L1166.88,454.26 L1167.90,456.23 L1168.71,457.52 L1169.11,457.97 L1169.52,458.23 L1169.92,458.23 L1170.33,457.86 L1170.73,457.01 L1171.14,455.50 L1171.75,451.61 L1172.36,445.05 L1172.97,435.09 L1173.37,426.33 L1174.99,382.31 L1175.60,368.47 L1176.01,361.06 L1176.41,355.18 L1177.02,349.06 L1177.23,347.65 L1177.63,345.66 L1178.04,344.57 L1178.24,344.31 L1178.44,344.21 L1178.65,344.25 L1178.85,344.41 L1179.25,345.04 L1179.66,345.97 L1180.07,347.14 L1180.88,349.88 L1183.31,359.03 L1184.73,364.11 L1186.15,368.79 L1187.57,373.05 L1188.99,376.91 L1190.41,380.41 L1191.83,383.58 L1193.25,386.45 L1195.07,389.73 L1196.90,392.63 L1198.73,395.17 L1200.75,397.64 L1202.99,399.97 L1205.22,401.97 L1207.65,403.82 L1210.08,405.37 L1212.52,406.68 L1215.16,407.87 L1217.99,408.93 L1221.04,409.85 L1224.28,410.64 L1227.73,411.30 L1231.58,411.87 L1235.84,412.34 L1240.10,412.69 L1244.97,412.99 L1250.45,413.21 L1256.74,413.39 L1272.35,413.60 L1297.10,413.68" fill="none" stroke="#F15A24" stroke-width="4.3" stroke-linejoin="round" stroke-linecap="butt" clip-path="url(#clipe)"/>
<rect x="810.30" y="332.60" width="486.80" height="161.70" fill="none" stroke="#000" stroke-width="3"/>
<text transform="translate(810.30,521.30) scale(1,1.04)" text-anchor="middle" font-size="25">0</text>
<text transform="translate(932.00,521.30) scale(1,1.04)" text-anchor="middle" font-size="25">15</text>
<text transform="translate(1053.70,521.30) scale(1,1.04)" text-anchor="middle" font-size="25">30</text>
<text transform="translate(1175.40,521.30) scale(1,1.04)" text-anchor="middle" font-size="25">45</text>
<text transform="translate(1297.10,521.30) scale(1,1.04)" text-anchor="middle" font-size="25">60</text>
<text transform="translate(802.60,494.40) scale(1,1.04)" text-anchor="end" font-size="25">-1</text>
<text transform="translate(802.60,421.10) scale(1,1.04)" text-anchor="end" font-size="25">0</text>
<text transform="translate(802.60,347.80) scale(1,1.04)" text-anchor="end" font-size="25">1</text>
<text transform="translate(815.77,325.40) scale(1,1.04)" ><tspan font-size="25">×</tspan><tspan font-size="25" dx="2.2">10</tspan><tspan font-size="15.8" dy="-6.73" dx="0.8">19</tspan></text>
<text x="982.17" y="562.30" ><tspan font-size="28.4">Distance (nm)</tspan></text>
<text transform="translate(747.00,472.50) rotate(-90)" ><tspan font-size="28" font-style="italic">ΔC</tspan><tspan font-size="28"> (cm</tspan><tspan font-size="18" dy="-9.00">-3</tspan><tspan font-size="28" dy="9.00">)</tspan></text>
<text x="990.73" y="470.00" ><tspan font-size="32" font-style="italic">ΔC</tspan><tspan font-size="21.5" dy="8.20">BPV−ph</tspan></text>
<path d="M1607.33,494.30 v-6.8 M1728.95,494.30 v-6.8 M1850.58,494.30 v-6.8 M1546.51,494.30 v-3.9 M1668.14,494.30 v-3.9 M1789.76,494.30 v-3.9 M1911.39,494.30 v-3.9 M1485.70,478.30 h6.8 M1485.70,413.70 h6.8 M1485.70,349.10 h6.8 M1485.70,446.00 h3.9 M1485.70,381.40 h3.9 " stroke="#000" stroke-width="3" fill="none"/>
<path d="M1485.70,413.70 L1585.43,430.57 L1591.72,431.54 L1593.74,431.76 L1595.37,431.83 L1596.58,431.79 L1597.60,431.64 L1598.61,431.36 L1599.42,431.00 L1600.23,430.48 L1600.84,429.96 L1601.65,429.05 L1602.26,428.18 L1602.87,427.13 L1603.47,425.89 L1604.69,422.77 L1605.91,418.87 L1608.34,409.96 L1609.35,406.49 L1610.57,402.97 L1611.58,400.66 L1612.19,399.55 L1613.00,398.35 L1613.61,397.65 L1614.42,396.92 L1615.23,396.40 L1616.24,395.97 L1617.26,395.72 L1618.47,395.59 L1620.10,395.59 L1622.12,395.76 L1624.96,396.15 L1629.01,396.79 L1826.25,430.17 L1833.95,431.40 L1836.18,431.68 L1837.80,431.81 L1839.22,431.82 L1840.44,431.71 L1841.45,431.49 L1842.47,431.10 L1843.28,430.63 L1844.09,429.96 L1844.90,429.05 L1845.51,428.18 L1846.32,426.74 L1846.93,425.43 L1848.14,422.17 L1849.36,418.16 L1851.59,409.96 L1852.60,406.49 L1853.62,403.50 L1854.63,401.07 L1855.24,399.90 L1855.85,398.91 L1856.45,398.10 L1857.26,397.26 L1858.08,396.64 L1858.89,396.20 L1859.90,395.85 L1860.91,395.66 L1862.53,395.57 L1864.56,395.68 L1867.20,396.00 L1870.85,396.56 L1972.20,413.70" fill="none" stroke="#808080" stroke-width="4.3" stroke-linejoin="round" stroke-linecap="butt" clip-path="url(#clipf)"/>
<path d="M1485.70,413.70 L1513.27,414.02 L1531.71,414.45 L1539.62,414.75 L1546.72,415.11 L1553.20,415.55 L1559.28,416.07 L1564.55,416.65 L1569.62,417.34 L1574.28,418.10 L1578.54,418.95 L1582.59,419.90 L1586.65,421.02 L1589.69,421.98 L1595.16,423.89 L1596.99,424.47 L1598.61,424.83 L1600.03,424.89 L1600.64,424.81 L1601.24,424.62 L1601.85,424.33 L1602.46,423.90 L1603.07,423.30 L1603.47,422.81 L1604.49,421.19 L1605.30,419.47 L1606.11,417.39 L1608.14,411.17 L1609.15,408.42 L1609.96,406.60 L1610.97,404.87 L1611.78,403.88 L1612.19,403.50 L1612.80,403.07 L1613.41,402.78 L1614.01,402.59 L1615.23,402.50 L1616.45,402.64 L1617.87,402.99 L1624.76,405.35 L1627.80,406.32 L1631.65,407.40 L1635.50,408.32 L1639.96,409.22 L1644.62,410.00 L1649.69,410.70 L1655.16,411.31 L1661.45,411.85 L1668.54,412.33 L1676.45,412.71 L1685.16,413.02 L1704.83,413.43 L1747.80,413.90 L1765.03,414.18 L1773.75,414.41 L1781.65,414.70 L1788.75,415.04 L1795.03,415.44 L1802.13,416.03 L1808.41,416.73 L1814.29,417.55 L1819.76,418.53 L1824.02,419.45 L1827.87,420.44 L1832.33,421.78 L1839.83,424.35 L1841.45,424.76 L1842.87,424.91 L1843.48,424.87 L1844.09,424.76 L1845.10,424.33 L1845.71,423.90 L1846.12,423.52 L1847.13,422.23 L1847.94,420.80 L1848.95,418.47 L1849.76,416.23 L1851.79,410.01 L1852.60,407.93 L1853.41,406.21 L1854.43,404.59 L1854.83,404.10 L1855.44,403.50 L1856.05,403.07 L1856.66,402.78 L1857.26,402.59 L1857.87,402.51 L1859.29,402.57 L1860.91,402.93 L1862.74,403.51 L1868.21,405.42 L1871.25,406.38 L1875.31,407.50 L1879.36,408.45 L1883.62,409.30 L1888.28,410.06 L1893.35,410.75 L1898.62,411.33 L1904.70,411.85 L1911.18,412.29 L1918.28,412.65 L1926.19,412.95 L1944.63,413.38 L1972.20,413.70" fill="none" stroke="#28C800" stroke-width="4.3" stroke-linejoin="round" stroke-linecap="butt" clip-path="url(#clipf)"/>
<path d="M1485.70,413.66 L1514.08,439.31 L1523.61,447.78 L1531.51,454.67 L1538.40,460.50 L1544.49,465.44 L1549.96,469.64 L1554.82,473.09 L1559.49,476.08 L1561.72,477.37 L1563.95,478.54 L1565.97,479.51 L1568.00,480.36 L1570.03,481.09 L1571.85,481.63 L1573.68,482.05 L1575.50,482.34 L1577.32,482.49 L1578.95,482.50 L1580.57,482.39 L1582.19,482.15 L1583.81,481.77 L1585.43,481.25 L1586.85,480.68 L1588.27,479.99 L1589.69,479.18 L1590.91,478.38 L1592.12,477.48 L1593.34,476.46 L1594.55,475.28 L1595.57,474.16 L1596.58,472.87 L1597.39,471.69 L1598.20,470.32 L1598.81,469.14 L1600.03,466.29 L1600.64,464.54 L1601.24,462.52 L1602.26,458.43 L1603.07,454.38 L1603.88,449.54 L1604.69,443.87 L1606.11,432.09 L1609.15,404.00 L1610.16,395.91 L1610.97,390.35 L1611.99,384.57 L1612.60,381.67 L1613.20,379.15 L1613.81,376.96 L1614.42,375.05 L1615.03,373.39 L1615.84,371.48 L1616.85,369.47 L1618.07,367.48 L1619.28,365.82 L1620.70,364.16 L1622.33,362.54 L1624.15,360.98 L1625.97,359.66 L1627.80,358.54 L1629.62,357.61 L1631.45,356.87 L1633.27,356.30 L1635.30,355.86 L1637.12,355.63 L1639.15,355.55 L1641.18,355.65 L1643.41,355.93 L1645.03,356.25 L1646.65,356.65 L1649.89,357.69 L1653.34,359.09 L1657.19,360.96 L1661.25,363.19 L1665.50,365.78 L1670.37,368.97 L1675.64,372.62 L1680.30,375.99 L1685.57,379.90 L1698.34,389.67 L1712.53,400.76 L1750.44,430.62 L1767.06,443.51 L1774.36,449.01 L1780.64,453.62 L1786.11,457.47 L1791.18,460.84 L1796.25,463.97 L1800.91,466.55 L1803.14,467.65 L1805.17,468.57 L1807.20,469.40 L1809.02,470.06 L1811.05,470.69 L1812.87,471.15 L1814.70,471.50 L1816.32,471.72 L1817.94,471.83 L1819.56,471.84 L1821.18,471.73 L1822.80,471.51 L1824.63,471.10 L1826.25,470.60 L1828.07,469.88 L1829.70,469.08 L1831.32,468.14 L1832.94,467.03 L1834.56,465.76 L1835.98,464.48 L1837.40,463.02 L1838.62,461.58 L1839.63,460.21 L1840.64,458.63 L1841.66,456.77 L1842.47,455.01 L1843.28,452.93 L1843.89,451.11 L1844.90,447.45 L1845.71,443.84 L1846.72,438.30 L1847.53,432.95 L1848.95,421.64 L1852.40,390.01 L1853.41,382.03 L1854.22,376.57 L1855.24,370.90 L1856.25,366.40 L1856.86,364.18 L1857.47,362.25 L1858.68,359.13 L1859.49,357.46 L1860.31,356.04 L1861.12,354.81 L1862.13,353.48 L1863.35,352.12 L1864.56,350.94 L1865.78,349.92 L1867.20,348.88 L1868.62,347.97 L1870.24,347.10 L1871.66,346.46 L1873.28,345.87 L1874.70,345.47 L1876.32,345.15 L1877.94,344.95 L1879.56,344.89 L1880.98,344.93 L1882.60,345.09 L1884.02,345.31 L1885.64,345.67 L1887.27,346.12 L1888.89,346.66 L1892.13,347.98 L1895.78,349.81 L1899.63,352.06 L1903.68,354.72 L1908.14,357.91 L1912.81,361.48 L1917.87,365.56 L1923.55,370.31 L1930.24,376.07 L1946.66,390.63 L1972.20,413.74" fill="none" stroke="#D633FF" stroke-width="4.3" stroke-linejoin="round" stroke-linecap="butt" clip-path="url(#clipf)"/>
<rect x="1485.70" y="332.60" width="486.50" height="161.70" fill="none" stroke="#000" stroke-width="3"/>
<text transform="translate(1485.70,521.30) scale(1,1.04)" text-anchor="middle" font-size="25">0</text>
<text transform="translate(1607.33,521.30) scale(1,1.04)" text-anchor="middle" font-size="25">15</text>
<text transform="translate(1728.95,521.30) scale(1,1.04)" text-anchor="middle" font-size="25">30</text>
<text transform="translate(1850.58,521.30) scale(1,1.04)" text-anchor="middle" font-size="25">45</text>
<text transform="translate(1972.20,521.30) scale(1,1.04)" text-anchor="middle" font-size="25">60</text>
<text transform="translate(1477.80,485.10) scale(1,1.04)" text-anchor="end" font-size="25">-20</text>
<text transform="translate(1477.80,420.50) scale(1,1.04)" text-anchor="end" font-size="25">0</text>
<text transform="translate(1477.80,355.90) scale(1,1.04)" text-anchor="end" font-size="25">20</text>
<text x="1657.97" y="562.30" ><tspan font-size="28.4">Distance (nm)</tspan></text>
<text transform="translate(1420.20,454.00) rotate(-90)" ><tspan font-size="28" font-style="italic">V</tspan><tspan font-size="28"> (mV)</tspan></text>
<path d="M932.23,776.20 v-6.8 M1053.85,776.20 v-6.8 M1175.47,776.20 v-6.8 M871.41,776.20 v-3.9 M993.04,776.20 v-3.9 M1114.66,776.20 v-3.9 M1236.29,776.20 v-3.9 M810.60,740.70 h6.8 M810.60,695.30 h6.8 M810.60,649.90 h6.8 " stroke="#000" stroke-width="3" fill="none"/>
<path d="M810.60,695.30 L913.37,695.30 L915.20,695.35 L916.62,695.48 L917.83,695.72 L919.66,696.21 L920.47,696.35 L921.28,696.34 L922.09,696.11 L922.90,695.61 L923.71,694.81 L924.52,693.63 L925.13,692.44 L925.74,690.89 L926.14,689.61 L926.75,687.19 L927.16,685.18 L927.97,679.97 L928.58,674.90 L929.18,668.83 L930.60,652.87 L931.21,647.18 L931.62,644.56 L931.82,643.70 L932.02,643.18 L932.23,643.00 L932.43,643.18 L932.63,643.70 L932.83,644.56 L933.24,647.18 L933.85,652.86 L935.27,668.81 L935.87,674.86 L936.68,681.34 L937.50,686.05 L937.90,687.82 L938.51,689.91 L939.12,691.44 L939.73,692.54 L940.33,693.34 L941.14,694.06 L942.16,694.60 L943.17,694.91 L944.39,695.11 L946.01,695.22 L951.48,695.30 L1157.84,695.31 L1160.88,695.36 L1162.91,695.48 L1164.33,695.71 L1165.54,696.13 L1166.35,696.61 L1167.16,697.37 L1167.77,698.21 L1168.38,699.39 L1168.99,701.02 L1169.39,702.43 L1170.00,705.15 L1170.41,707.47 L1171.22,713.54 L1171.83,719.51 L1172.43,726.67 L1173.85,745.55 L1174.46,752.27 L1174.87,755.38 L1175.07,756.40 L1175.27,757.02 L1175.47,757.23 L1175.68,757.02 L1175.88,756.40 L1176.08,755.38 L1176.49,752.27 L1177.10,745.54 L1178.52,726.65 L1179.12,719.47 L1179.73,713.46 L1180.54,707.32 L1180.95,704.94 L1181.56,702.10 L1181.96,700.59 L1182.57,698.79 L1183.18,697.42 L1183.99,696.08 L1184.80,695.17 L1185.61,694.60 L1186.42,694.33 L1187.23,694.29 L1188.04,694.42 L1190.07,694.93 L1191.08,695.12 L1192.50,695.25 L1194.53,695.30 L1297.10,695.30" fill="none" stroke="#29ABE2" stroke-width="4.3" stroke-linejoin="round" stroke-linecap="butt" clip-path="url(#cliph)"/>
<path d="M810.60,695.30 L913.17,695.30 L915.20,695.25 L916.62,695.12 L917.63,694.93 L919.66,694.42 L920.47,694.29 L921.28,694.33 L922.09,694.60 L922.90,695.17 L923.71,696.08 L924.52,697.42 L925.13,698.79 L925.74,700.59 L926.14,702.10 L926.75,704.94 L927.16,707.32 L927.97,713.46 L928.58,719.47 L929.18,726.65 L930.60,745.54 L931.21,752.27 L931.62,755.38 L931.82,756.40 L932.02,757.02 L932.23,757.23 L932.43,757.02 L932.63,756.40 L932.83,755.38 L933.24,752.27 L933.85,745.55 L935.27,726.67 L935.87,719.51 L936.48,713.54 L937.29,707.47 L937.70,705.15 L938.31,702.43 L938.71,701.02 L939.32,699.39 L939.93,698.21 L940.54,697.37 L941.35,696.61 L942.16,696.13 L943.37,695.71 L944.79,695.48 L946.82,695.36 L949.86,695.31 L1156.22,695.30 L1161.69,695.22 L1163.31,695.11 L1164.53,694.91 L1165.54,694.60 L1166.56,694.06 L1167.37,693.34 L1167.97,692.54 L1168.58,691.44 L1169.19,689.91 L1169.80,687.82 L1170.20,686.05 L1171.02,681.34 L1171.83,674.86 L1172.43,668.81 L1173.85,652.86 L1174.46,647.18 L1174.87,644.56 L1175.07,643.70 L1175.27,643.18 L1175.47,643.00 L1175.68,643.18 L1175.88,643.70 L1176.08,644.56 L1176.49,647.18 L1177.10,652.87 L1178.52,668.83 L1179.12,674.90 L1179.73,679.97 L1180.54,685.18 L1180.95,687.19 L1181.56,689.61 L1181.96,690.89 L1182.57,692.44 L1183.18,693.63 L1183.99,694.81 L1184.80,695.61 L1185.61,696.11 L1186.42,696.34 L1187.23,696.35 L1188.04,696.21 L1189.87,695.72 L1191.08,695.48 L1192.50,695.35 L1194.33,695.30 L1297.10,695.30" fill="none" stroke="#F15A24" stroke-width="4.3" stroke-linejoin="round" stroke-linecap="butt" clip-path="url(#cliph)"/>
<rect x="810.60" y="614.80" width="486.50" height="161.40" fill="none" stroke="#000" stroke-width="3"/>
<text transform="translate(810.60,803.20) scale(1,1.04)" text-anchor="middle" font-size="25">0</text>
<text transform="translate(932.23,803.20) scale(1,1.04)" text-anchor="middle" font-size="25">15</text>
<text transform="translate(1053.85,803.20) scale(1,1.04)" text-anchor="middle" font-size="25">30</text>
<text transform="translate(1175.47,803.20) scale(1,1.04)" text-anchor="middle" font-size="25">45</text>
<text transform="translate(1297.10,803.20) scale(1,1.04)" text-anchor="middle" font-size="25">60</text>
<text transform="translate(802.60,748.10) scale(1,1.04)" text-anchor="end" font-size="25">1.10</text>
<text transform="translate(802.60,702.70) scale(1,1.04)" text-anchor="end" font-size="25">1.15</text>
<text transform="translate(802.60,657.30) scale(1,1.04)" text-anchor="end" font-size="25">1.20</text>
<text transform="translate(816.07,607.60) scale(1,1.04)" ><tspan font-size="25">×</tspan><tspan font-size="25" dx="2.2">10</tspan><tspan font-size="15.8" dy="-6.73" dx="0.8">22</tspan></text>
<text x="982.17" y="844.50" ><tspan font-size="28.4">Distance (nm)</tspan></text>
<text transform="translate(723.90,742.60) rotate(-90)" ><tspan font-size="28" font-style="italic">C</tspan><tspan font-size="28"> (cm</tspan><tspan font-size="18" dy="-9.00">-3</tspan><tspan font-size="28" dy="9.00">)</tspan></text>
<path d="M1484.80,695.80 L1971.00,695.80" fill="none" stroke="#28C800" stroke-width="4.4" stroke-linejoin="round" stroke-linecap="butt" clip-path="url(#clipi)"/>
<path d="M1484.80,695.80 L1606.35,757.67 L1849.45,633.93 L1971.00,695.80" fill="none" stroke="#FF8000" stroke-width="3.6" stroke-linejoin="miter" stroke-linecap="butt" clip-path="url(#clipi)"/>
<path d="M1606.35,776.50 v-6.8 M1727.90,776.50 v-6.8 M1849.45,776.50 v-6.8 M1545.58,776.50 v-3.9 M1667.12,776.50 v-3.9 M1788.67,776.50 v-3.9 M1910.22,776.50 v-3.9 M1484.80,749.60 h6.8 M1484.80,695.80 h6.8 M1484.80,642.00 h6.8 M1484.80,722.70 h3.9 M1484.80,668.90 h3.9 " stroke="#000" stroke-width="3" fill="none"/>
<rect x="1484.80" y="615.10" width="486.20" height="161.40" fill="none" stroke="#000" stroke-width="3"/>
<text transform="translate(1484.80,803.50) scale(1,1.04)" text-anchor="middle" font-size="25">0</text>
<text transform="translate(1606.35,803.50) scale(1,1.04)" text-anchor="middle" font-size="25">15</text>
<text transform="translate(1727.90,803.50) scale(1,1.04)" text-anchor="middle" font-size="25">30</text>
<text transform="translate(1849.45,803.50) scale(1,1.04)" text-anchor="middle" font-size="25">45</text>
<text transform="translate(1971.00,803.50) scale(1,1.04)" text-anchor="middle" font-size="25">60</text>
<text transform="translate(1477.20,757.40) scale(1,1.04)" text-anchor="end" font-size="25">-2000</text>
<text transform="translate(1477.20,703.60) scale(1,1.04)" text-anchor="end" font-size="25">0</text>
<text transform="translate(1477.20,649.80) scale(1,1.04)" text-anchor="end" font-size="25">2000</text>
<text x="1657.97" y="844.50" ><tspan font-size="28.4">Distance (nm)</tspan></text>
<text transform="translate(1398.90,734.20) rotate(-90)" ><tspan font-size="28" font-style="italic">V</tspan><tspan font-size="28"> (mV)</tspan></text>
<g><circle cx="895.80" cy="359.30" r="11.7" fill="url(#bb)"/><circle cx="895.80" cy="359.30" r="11.7" fill="url(#bh1)"/><circle cx="895.80" cy="359.30" r="11.7" fill="url(#bh2)"/><circle cx="895.80" cy="359.30" r="11.7" fill="url(#bsh)"/><rect x="888.00" y="358.60" width="15.0" height="3.0" fill="#fff"/></g>
<g><circle cx="968.60" cy="359.30" r="11.7" fill="url(#rb)"/><circle cx="968.60" cy="359.30" r="11.7" fill="url(#rh1)"/><circle cx="968.60" cy="359.30" r="11.7" fill="url(#rh2)"/><circle cx="968.60" cy="359.30" r="11.7" fill="url(#rsh)"/><rect x="961.90" y="358.40" width="15.0" height="3.0" fill="#fff"/><rect x="967.90" y="352.40" width="3.0" height="15.0" fill="#fff"/></g>
<g><circle cx="1140.10" cy="359.30" r="11.7" fill="url(#bb)"/><circle cx="1140.10" cy="359.30" r="11.7" fill="url(#bh1)"/><circle cx="1140.10" cy="359.30" r="11.7" fill="url(#bh2)"/><circle cx="1140.10" cy="359.30" r="11.7" fill="url(#bsh)"/><rect x="1132.30" y="358.60" width="15.0" height="3.0" fill="#fff"/></g>
<g><circle cx="1212.30" cy="359.30" r="11.7" fill="url(#rb)"/><circle cx="1212.30" cy="359.30" r="11.7" fill="url(#rh1)"/><circle cx="1212.30" cy="359.30" r="11.7" fill="url(#rh2)"/><circle cx="1212.30" cy="359.30" r="11.7" fill="url(#rsh)"/><rect x="1205.60" y="358.40" width="15.0" height="3.0" fill="#fff"/><rect x="1211.60" y="352.40" width="3.0" height="15.0" fill="#fff"/></g>
<polygon fill="#D633FF" points="1620.20,430.00 1620.20,469.00 1615.50,469.00 1622.60,490.00 1629.70,469.00 1625.00,469.00 1625.00,430.00"/>
<polygon fill="#D633FF" points="1839.00,397.90 1839.00,358.80 1843.70,358.80 1836.60,337.80 1829.50,358.80 1834.20,358.80 1834.20,397.90"/>
<g><circle cx="1653.90" cy="453.50" r="11.7" fill="url(#bb)"/><circle cx="1653.90" cy="453.50" r="11.7" fill="url(#bh1)"/><circle cx="1653.90" cy="453.50" r="11.7" fill="url(#bh2)"/><circle cx="1653.90" cy="453.50" r="11.7" fill="url(#bsh)"/><rect x="1646.10" y="452.80" width="15.0" height="3.0" fill="#fff"/></g>
<g><circle cx="1808.80" cy="371.00" r="11.7" fill="url(#rb)"/><circle cx="1808.80" cy="371.00" r="11.7" fill="url(#rh1)"/><circle cx="1808.80" cy="371.00" r="11.7" fill="url(#rh2)"/><circle cx="1808.80" cy="371.00" r="11.7" fill="url(#rsh)"/><rect x="1802.10" y="370.10" width="15.0" height="3.0" fill="#fff"/><rect x="1808.10" y="364.10" width="3.0" height="15.0" fill="#fff"/></g>
<g><circle cx="911.20" cy="638.80" r="11.7" fill="url(#bb)"/><circle cx="911.20" cy="638.80" r="11.7" fill="url(#bh1)"/><circle cx="911.20" cy="638.80" r="11.7" fill="url(#bh2)"/><circle cx="911.20" cy="638.80" r="11.7" fill="url(#bsh)"/><rect x="903.40" y="638.10" width="15.0" height="3.0" fill="#fff"/></g>
<g><circle cx="1197.50" cy="638.80" r="11.7" fill="url(#rb)"/><circle cx="1197.50" cy="638.80" r="11.7" fill="url(#rh1)"/><circle cx="1197.50" cy="638.80" r="11.7" fill="url(#rh2)"/><circle cx="1197.50" cy="638.80" r="11.7" fill="url(#rsh)"/><rect x="1190.80" y="637.90" width="15.0" height="3.0" fill="#fff"/><rect x="1196.80" y="631.90" width="3.0" height="15.0" fill="#fff"/></g>
<text x="1017.73" y="752.00" ><tspan font-size="32" font-style="italic">C</tspan><tspan font-size="21.5" dy="8.20">BPV</tspan></text>
<text x="1495.12" y="679.00" ><tspan font-size="28.3">+1500 kV/cm</tspan></text>
<text x="1721.30" y="736.50" ><tspan font-size="28.3">−1500 kV/cm</tspan></text>
<polygon filter="url(#shd)" fill="url(#gbr)" stroke="#963634" stroke-width="2.8" stroke-linejoin="miter" points="1503.90,718.90 1555.30,718.90 1555.30,713.00 1582.60,722.00 1555.30,731.00 1555.30,725.10 1503.90,725.10"/>
<polygon filter="url(#shd)" fill="url(#gbl)" stroke="#00B0F0" stroke-width="2.8" stroke-linejoin="miter" points="1709.20,718.90 1657.50,718.90 1657.50,713.00 1630.20,722.00 1657.50,731.00 1657.50,725.10 1709.20,725.10"/>
<polygon filter="url(#shd)" fill="url(#gbl)" stroke="#00B0F0" stroke-width="2.8" stroke-linejoin="miter" points="1825.50,666.30 1774.00,666.30 1774.00,660.40 1746.70,669.40 1774.00,678.40 1774.00,672.50 1825.50,672.50"/>
<polygon filter="url(#shd)" fill="url(#gbr)" stroke="#963634" stroke-width="2.8" stroke-linejoin="miter" points="1875.60,666.30 1926.70,666.30 1926.70,660.40 1954.00,669.40 1926.70,678.40 1926.70,672.50 1875.60,672.50"/>
<text x="-0.96" y="33.00" ><tspan font-size="50" font-weight="bold">a</tspan></text>
<text x="675.03" y="33.90" ><tspan font-size="53" font-weight="bold">c</tspan></text>
<text x="1349.83" y="37.80" ><tspan font-size="53" font-weight="bold">d</tspan></text>
<text x="-2.59" y="319.80" ><tspan font-size="53" font-weight="bold">b</tspan></text>
<text x="674.43" y="320.00" ><tspan font-size="53" font-weight="bold">e</tspan></text>
<text x="1356.89" y="319.70" ><tspan font-size="53" font-weight="bold">f</tspan></text>
<text x="-2.47" y="603.20" ><tspan font-size="53" font-weight="bold">g</tspan></text>
<text x="673.90" y="603.00" ><tspan font-size="53" font-weight="bold">h</tspan></text>
<text x="1358.20" y="602.90" ><tspan font-size="53" font-weight="bold">i</tspan></text>
<polygon fill="#E5720F" points="273.92,353.53 237.91,387.66 231.24,380.62 219.90,407.90 247.75,398.04 241.08,391.00 277.08,356.87"/>
<polygon fill="#E5720F" points="610.61,353.54 574.94,387.59 568.24,380.58 557.00,407.90 584.82,397.94 578.12,390.92 613.79,356.86"/>
<polygon fill="#E5720F" points="439.31,401.02 408.38,371.79 412.23,367.72 394.00,360.80 401.93,378.62 405.77,374.55 436.69,403.78"/>
<polygon fill="#0000FF" points="220.97,489.52 256.58,455.01 263.26,461.91 274.30,434.50 246.56,444.67 253.24,451.57 217.63,486.08"/>
<polygon fill="#0000FF" points="386.83,435.83 423.01,470.77 416.34,477.67 444.10,487.80 433.02,460.41 426.35,467.32 390.17,432.37"/>
<polygon fill="#0000FF" points="557.76,489.53 593.87,454.92 600.51,461.85 611.70,434.50 583.91,444.52 590.55,451.45 554.44,486.07"/>
<polygon fill="#0000FF" points="291.90,464.80 312.10,464.80 312.10,471.10 328.10,463.10 312.10,455.10 312.10,461.40 291.90,461.40"/>
<polygon fill="#D633FF" points="291.90,378.90 312.10,378.90 312.10,385.20 328.10,377.20 312.10,369.20 312.10,375.50 291.90,375.50"/>
<polygon fill="#0000FF" points="510.60,464.80 530.80,464.80 530.80,471.10 546.80,463.10 530.80,455.10 530.80,461.40 510.60,461.40"/>
<polygon fill="#D633FF" points="510.60,378.90 530.80,378.90 530.80,385.20 546.80,377.20 530.80,369.20 530.80,375.50 510.60,375.50"/>
<path d="M304.90,350.30 V489.70" stroke="#FFB60F" stroke-width="3" stroke-dasharray="11.6 9.7" fill="none"/>
<path d="M522.60,350.30 V489.70" stroke="#FFB60F" stroke-width="3" stroke-dasharray="11.6 9.7" fill="none"/>
<g filter="url(#soft)"><rect x="197" y="412.10" width="108.2" height="15.2" fill="#E8282D"/><rect x="305.2" y="412.10" width="216.8" height="15.2" fill="#84D812"/><rect x="522" y="412.10" width="108.5" height="15.2" fill="#E8282D"/></g>
<g><circle cx="305.90" cy="340.20" r="12.0" fill="url(#bb)"/><circle cx="305.90" cy="340.20" r="12.0" fill="url(#bh1)"/><circle cx="305.90" cy="340.20" r="12.0" fill="url(#bh2)"/><circle cx="305.90" cy="340.20" r="12.0" fill="url(#bsh)"/><rect x="297.10" y="338.90" width="15.0" height="3.0" fill="#fff"/></g>
<g><circle cx="522.90" cy="340.20" r="12.0" fill="url(#rb)"/><circle cx="522.90" cy="340.20" r="12.0" fill="url(#rh1)"/><circle cx="522.90" cy="340.20" r="12.0" fill="url(#rh2)"/><circle cx="522.90" cy="340.20" r="12.0" fill="url(#rsh)"/><rect x="514.00" y="339.00" width="15.0" height="3.0" fill="#fff"/><rect x="520.00" y="333.00" width="3.0" height="15.0" fill="#fff"/></g>
<text x="132.63" y="386.70" ><tspan font-size="31" font-weight="bold" fill="#E5720F">J</tspan><tspan font-size="21" font-weight="bold" fill="#E5720F" dy="7.00">BPV</tspan></text>
<text x="149.96" y="474.40" ><tspan font-size="30.5" font-weight="bold" fill="#1E8FFF">P</tspan></text>
<text x="62.68" y="347.10" ><tspan font-size="42.5" font-family="'Liberation Serif', 'Times New Roman', serif" font-style="italic">β</tspan></text>
<text x="86.66" y="328.70" ><tspan font-size="23.6">BTO,</tspan><tspan font-size="23.6" dx="-3"> 405 nm</tspan></text>
<text x="83.66" y="357.40" ><tspan font-size="23">ijk</tspan></text>
<text x="34.36" y="509.50" ><tspan font-size="30.5" font-weight="bold" fill="#7030A0">E</tspan><tspan font-size="21" font-weight="bold" fill="#7030A0" dy="7.50">ph</tspan></text>
<polygon fill="#7030A0" points="97.38,467.24 80.60,450.72 86.99,444.24 61.10,434.90 70.85,460.63 77.24,454.15 94.02,470.66"/>
<polygon fill="#7030A0" points="94.02,470.66 110.80,487.18 104.41,493.66 130.30,503.00 120.55,477.27 114.16,483.75 97.38,467.24"/>
<polygon fill="#E5720F" points="273.92,636.53 237.91,670.66 231.24,663.62 219.90,690.90 247.75,681.04 241.08,674.00 277.08,639.87"/>
<polygon fill="#E5720F" points="610.61,636.54 574.94,670.59 568.24,663.58 557.00,690.90 584.82,680.94 578.12,673.92 613.79,639.86"/>
<polygon fill="#E5720F" points="393.19,645.17 423.68,674.33 419.81,678.38 438.00,685.40 430.17,667.54 426.30,671.59 395.81,642.43"/>
<polygon fill="#0000FF" points="220.97,772.52 256.58,738.01 263.26,744.91 274.30,717.50 246.56,727.67 253.24,734.57 217.63,769.08"/>
<polygon fill="#0000FF" points="386.83,718.83 423.01,753.77 416.34,760.67 444.10,770.80 433.02,743.41 426.35,750.32 390.17,715.37"/>
<polygon fill="#0000FF" points="557.76,772.53 593.87,737.92 600.51,744.85 611.70,717.50 583.91,727.52 590.55,734.45 554.44,769.07"/>
<polygon fill="#0000FF" points="291.90,747.80 312.10,747.80 312.10,754.10 328.10,746.10 312.10,738.10 312.10,744.40 291.90,744.40"/>
<polygon fill="#0000FF" points="510.60,747.80 530.80,747.80 530.80,754.10 546.80,746.10 530.80,738.10 530.80,744.40 510.60,744.40"/>
<g filter="url(#soft)"><rect x="197" y="695.10" width="108.2" height="15.2" fill="#E8282D"/><rect x="305.2" y="695.10" width="216.8" height="15.2" fill="#84D812"/><rect x="522" y="695.10" width="108.5" height="15.2" fill="#E8282D"/></g>
<path d="M305.70,633.30 V772.70" stroke="#FFB60F" stroke-width="3" stroke-dasharray="11.6 9.7" fill="none"/>
<path d="M523.20,633.30 V772.70" stroke="#FFB60F" stroke-width="3" stroke-dasharray="11.6 9.7" fill="none"/>
<g><circle cx="305.90" cy="623.20" r="12.0" fill="url(#bb)"/><circle cx="305.90" cy="623.20" r="12.0" fill="url(#bh1)"/><circle cx="305.90" cy="623.20" r="12.0" fill="url(#bh2)"/><circle cx="305.90" cy="623.20" r="12.0" fill="url(#bsh)"/><rect x="297.10" y="621.90" width="15.0" height="3.0" fill="#fff"/></g>
<g><circle cx="522.90" cy="623.20" r="12.0" fill="url(#rb)"/><circle cx="522.90" cy="623.20" r="12.0" fill="url(#rh1)"/><circle cx="522.90" cy="623.20" r="12.0" fill="url(#rh2)"/><circle cx="522.90" cy="623.20" r="12.0" fill="url(#rsh)"/><rect x="514.00" y="622.00" width="15.0" height="3.0" fill="#fff"/><rect x="520.00" y="616.00" width="3.0" height="15.0" fill="#fff"/></g>
<text x="132.63" y="669.70" ><tspan font-size="31" font-weight="bold" fill="#E5720F">J</tspan><tspan font-size="21" font-weight="bold" fill="#E5720F" dy="7.00">BPV</tspan></text>
<text x="149.96" y="757.40" ><tspan font-size="30.5" font-weight="bold" fill="#1E8FFF">P</tspan></text>
<text x="62.68" y="630.10" ><tspan font-size="42.5" font-family="'Liberation Serif', 'Times New Roman', serif" font-style="italic">β</tspan></text>
<text x="86.66" y="611.70" ><tspan font-size="23.6">PTO,</tspan><tspan font-size="23.6" dx="-3"> 200 nm</tspan></text>
<text x="83.66" y="640.40" ><tspan font-size="23">ijk</tspan></text>
<text x="34.36" y="729.40" ><tspan font-size="30.5" font-weight="bold" fill="#7030A0">E</tspan><tspan font-size="21" font-weight="bold" fill="#7030A0" dy="7.50">ph</tspan></text>
<polygon fill="#7030A0" points="94.00,750.25 77.07,767.21 70.63,760.78 61.10,786.60 86.90,777.04 80.46,770.61 97.40,753.65"/>
<polygon fill="#7030A0" points="97.40,753.65 114.33,736.69 120.77,743.12 130.30,717.30 104.50,726.86 110.94,733.29 94.00,750.25"/>
<g stroke="#000" fill="none"><circle cx="129.9" cy="899.3" r="8.9" stroke-width="1.9"/></g><circle cx="129.9" cy="899.3" r="2.6" fill="#000"/>
<polygon fill="#000" points="139.41,901.45 176.81,901.24 176.85,907.49 193.30,899.00 176.75,890.69 176.79,896.94 139.39,897.15"/>
<polygon fill="#000" points="138.25,894.28 166.87,866.87 171.19,871.38 177.30,853.90 159.57,859.25 163.90,863.76 135.27,891.18"/>
<polygon fill="#000" points="135.54,907.24 164.97,933.59 160.80,938.25 178.70,943.00 172.01,925.74 167.84,930.39 138.41,904.04"/>
<text x="88.60" y="909.10" ><tspan font-size="30" font-style="italic">x</tspan></text>
<text x="194.68" y="856.00" ><tspan font-size="30" font-style="italic">z</tspan></text>
<text x="195.30" y="956.20" ><tspan font-size="30" font-style="italic">y</tspan></text>
<text x="207.68" y="909.10" ><tspan font-size="31.2">[011]</tspan></text>
<rect x="361.7" y="909.00" width="69" height="7.2" fill="#29ABE2"/>
<rect x="567.1" y="909.00" width="69" height="7.2" fill="#F15A24"/>
<rect x="773.0" y="909.00" width="69" height="7.2" fill="#808080"/>
<rect x="1031.0" y="909.00" width="69" height="7.2" fill="#28C800"/>
<rect x="1268.2" y="909.00" width="69" height="7.2" fill="#E06A10"/>
<rect x="1602.0" y="909.00" width="69" height="7.2" fill="#D633FF"/>
<text x="454.69" y="924.90" ><tspan font-size="37" font-style="italic">n</tspan></text>
<text x="661.72" y="924.90" ><tspan font-size="37" font-style="italic">p</tspan></text>
<text x="866.89" y="924.90" ><tspan font-size="36" font-style="italic">V</tspan><tspan font-size="23.5" dy="9.20">dark</tspan></text>
<text x="1124.89" y="924.90" ><tspan font-size="36" font-style="italic">V</tspan><tspan font-size="23.5" dy="9.20">ph</tspan></text>
<text x="1363.09" y="924.90" ><tspan font-size="36" font-style="italic">V</tspan><tspan font-size="23.5" dy="9.20">BPV</tspan><tspan font-size="36" dy="-9.20">, </tspan><tspan font-size="36" font-style="italic">β</tspan><tspan font-size="23.5" dy="9.20">ijk</tspan></text>
<text x="1695.59" y="924.90" ><tspan font-size="36" font-style="italic">V</tspan><tspan font-size="23.5" dy="9.20">BPV</tspan><tspan font-size="36" dy="-9.20">, </tspan><tspan font-size="36" font-style="italic">β</tspan><tspan font-size="23.5" dy="9.20">ijk</tspan><tspan font-size="36" dy="-9.20" dx="1.7">(</tspan><tspan font-size="36" font-style="italic" dx="-0.6">f</tspan><tspan font-size="23.5" dy="9.20" dx="2.1">grad</tspan><tspan font-size="36" dy="-9.20" dx="2.1">)</tspan></text>
</svg>
</body></html>
